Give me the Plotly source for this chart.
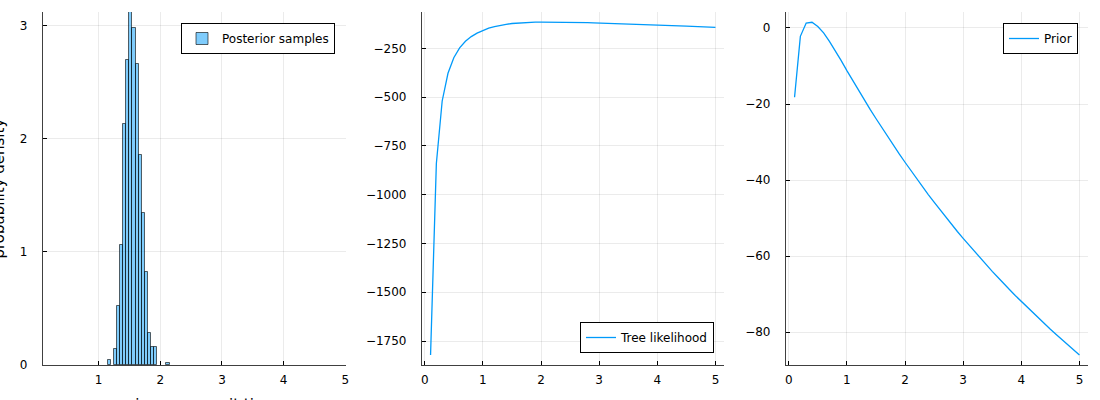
import plotly.graph_objects as go
from plotly.subplots import make_subplots

# ---- data ----
bin_left = [1.15, 1.25, 1.30, 1.35, 1.40, 1.45, 1.50, 1.55, 1.60, 1.65,
            1.70, 1.75, 1.80, 1.85, 1.90, 2.10]
density = [0.044, 0.14, 0.52, 1.06, 2.13, 2.70, 3.12, 2.98, 2.66, 1.86,
           1.34, 0.82, 0.28, 0.16, 0.16, 0.02]
bin_width = 0.05

grid_x = [0.1, 0.2, 0.3, 0.4, 0.5, 0.6, 0.7, 0.8, 0.9, 1.0,
          1.1, 1.2, 1.3, 1.4, 1.5, 1.6, 1.7, 1.8, 1.9, 2.0,
          2.1, 2.2, 2.3, 2.4, 2.5, 2.6, 2.7, 2.8, 2.9, 3.0,
          3.1, 3.2, 3.3, 3.4, 3.5, 3.6, 3.7, 3.8, 3.9, 4.0,
          4.1, 4.2, 4.3, 4.4, 4.5, 4.6, 4.7, 4.8, 4.9, 5.0]

tree_loglik = [-1822, -840, -520, -378, -298, -248, -214, -190, -172, -158,
               -147, -139, -132, -127, -123, -120.5, -118.5, -117, -116, -115.5,
               -115.5, -115.6, -115.9, -116.3, -116.8, -117.4, -118.1, -118.8, -119.5, -120.3,
               -121.2, -122.1, -123.0, -124.0, -125.0, -126.0, -127.0, -128.1, -129.2, -130.3,
               -131.5, -132.7, -133.9, -135.1, -136.4, -137.7, -139.0, -140.3, -141.6, -143.0]

prior = [-18.2, -2.2, 1.3, 1.5, 0.4, -1.3, -3.5, -5.9, -8.5, -11.2,
         -13.8, -16.4, -18.9, -21.4, -23.8, -26.2, -28.5, -30.8, -33.1, -35.3,
         -37.5, -39.6, -41.7, -43.8, -45.8, -47.8, -49.7, -51.6, -53.5, -55.3,
         -57.1, -58.9, -60.6, -62.3, -64.0, -65.6, -67.3, -68.8, -70.4, -71.9,
         -73.4, -74.9, -76.3, -77.8, -79.2, -80.6, -82.0, -83.3, -84.7, -86.0]

x1_ticks = [1, 2, 3, 4, 5]
y1_ticks = [0, 1, 2, 3]
x_ticks = [0, 1, 2, 3, 4, 5]
y2_ticks = [-1750, -1500, -1250, -1000, -750, -500, -250]
y3_ticks = [-80, -60, -40, -20, 0]

FONT = "DejaVu Sans"
BLUE = "#009AFA"

fig = make_subplots(rows=1, cols=3)

fig.add_trace(go.Bar(
    x=[b + bin_width / 2 for b in bin_left], y=density, width=bin_width,
    marker=dict(color="rgba(0,154,250,0.5)", line=dict(color="rgba(0,0,0,0.6)", width=1)),
    name="Posterior samples", legend="legend"), row=1, col=1)

fig.add_trace(go.Scatter(
    x=grid_x, y=tree_loglik, mode="lines", line=dict(color=BLUE, width=1.3),
    name="Tree likelihood", legend="legend2"), row=1, col=2)

fig.add_trace(go.Scatter(
    x=grid_x, y=prior, mode="lines", line=dict(color=BLUE, width=1.3),
    name="Prior", legend="legend3"), row=1, col=3)

W, H = 1100, 400
top, bottom = 12, 365
doms = [(43, 346), (422, 724), (786, 1088)]

axis_common = dict(
    showline=True, linecolor="rgba(0,0,0,0.75)", linewidth=1.2, mirror=False,
    showgrid=True, gridcolor="rgba(0,0,0,0.08)", gridwidth=1,
    zeroline=False, ticks="inside", ticklen=4, tickcolor="black", tickwidth=1,
    tickfont=dict(family=FONT, size=12, color="black"),
    automargin=False,
)

xranges = [[0.1, 5.01], [-0.047, 5.147], [-0.047, 5.147]]
yranges = [[0, 3.12], [-1873, -64], [-88.6, 4.2]]
xtv = [x1_ticks, x_ticks, x_ticks]
ytv = [y1_ticks, y2_ticks, y3_ticks]

for i in range(3):
    xa = "xaxis" if i == 0 else f"xaxis{i+1}"
    ya = "yaxis" if i == 0 else f"yaxis{i+1}"
    fig.layout[xa].update(
        domain=[doms[i][0] / W, doms[i][1] / W], range=xranges[i],
        tickvals=xtv[i], ticklabelstandoff=3, **axis_common)
    fig.layout[ya].update(
        domain=[1 - bottom / H, 1 - top / H], range=yranges[i],
        tickvals=ytv[i], ticklabelstandoff=12, **axis_common)

leg_common = dict(
    bgcolor="white", bordercolor="black", borderwidth=1,
    font=dict(family=FONT, size=12, color="black"),
    xanchor="right", itemwidth=30, tracegroupgap=0,
)

fig.update_layout(
    width=W, height=H,
    margin=dict(l=0, r=0, t=0, b=0, autoexpand=False),
    paper_bgcolor="white", plot_bgcolor="white",
    showlegend=True,
    bargap=0,
    legend=dict(x=335 / W, y=1 - 23 / H, yanchor="top", **leg_common),
    legend2=dict(x=714 / W, y=1 - 353 / H, yanchor="bottom", **leg_common),
    legend3=dict(x=1078 / W, y=1 - 23 / H, yanchor="top", **leg_common),
    font=dict(family=FONT, color="black"),
)

fig.add_annotation(text="probability density", xref="paper", yref="paper",
                   x=-1 / W, y=1 - 188.5 / H, xanchor="center", yanchor="middle",
                   textangle=-90, showarrow=False,
                   font=dict(family=FONT, size=15, color="black"))
fig.add_annotation(text="variance per unit time", xref="paper", yref="paper",
                   x=194.5 / W, y=1 - 394 / H, xanchor="center", yanchor="top",
                   showarrow=False,
                   font=dict(family=FONT, size=15, color="black"))

fig.write_html(
    "out.html",
    config={"displayModeBar": False},
    post_script="document.body.style.margin='0';document.body.style.overflow='hidden';",
)
